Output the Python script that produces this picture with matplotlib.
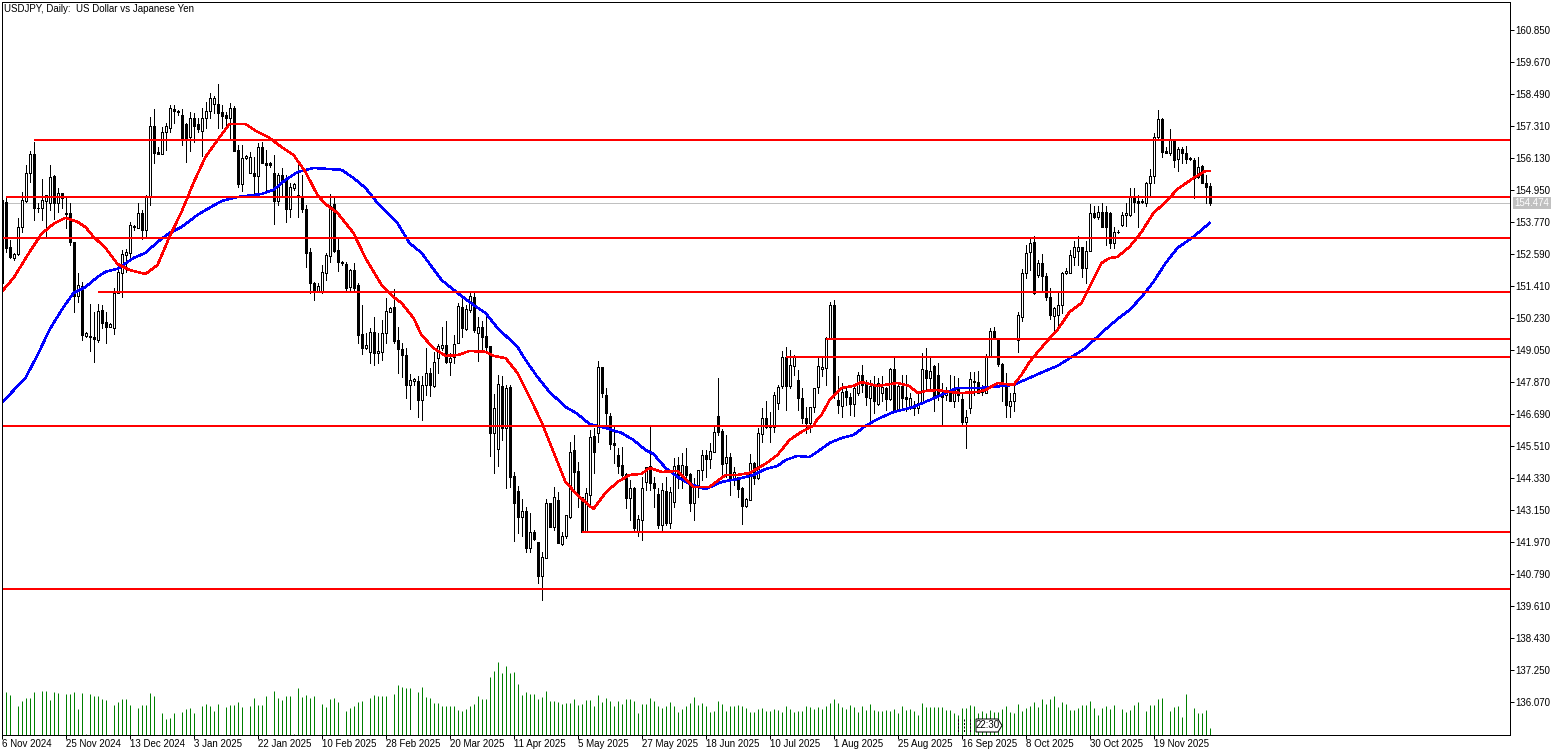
import matplotlib
matplotlib.use('Agg')
import matplotlib.pyplot as plt
from matplotlib.lines import Line2D
from matplotlib.patches import Polygon

# USDJPY daily candles, one bar per slot
opens = [
154.60,154.54,152.88,152.45,152.61,153.62,154.58,155.58,156.30,154.29,
154.29,154.58,154.50,155.49,154.50,154.85,154.12,154.12,153.04,151.06,
151.43,149.58,149.58,149.54,149.44,150.54,150.09,149.93,149.89,151.18,
151.92,152.57,152.63,153.59,153.58,154.12,153.49,154.70,157.33,156.38,
156.31,157.12,157.24,157.94,157.89,157.73,157.40,156.93,157.64,157.39,
157.16,157.61,157.88,158.14,158.14,157.83,157.73,157.63,157.98,156.44,
155.19,156.14,155.61,155.61,155.48,156.54,155.98,155.95,155.61,154.58,
155.52,155.36,154.26,155.03,154.78,154.75,154.26,152.67,151.53,151.26,
151.26,151.92,152.55,154.45,152.76,152.30,152.24,151.38,152.02,151.47,
149.66,149.13,149.01,149.72,148.95,149.01,149.68,150.48,150.64,149.44,
149.09,148.88,147.78,147.94,147.93,147.23,147.78,148.23,147.74,148.76,
149.15,149.25,148.64,148.80,149.31,150.64,149.84,150.54,151.04,149.71,
149.90,149.58,149.22,145.99,145.41,147.74,146.18,147.69,144.42,143.87,
142.92,143.13,141.75,142.35,141.98,140.75,141.41,143.41,142.55,143.54,
141.91,142.19,142.92,145.38,144.61,143.66,142.37,143.72,145.90,146.02,
148.43,147.41,146.63,145.63,145.20,144.83,144.50,143.62,143.99,142.37,
142.78,144.21,144.79,144.15,143.76,142.62,143.87,142.70,143.48,144.83,
144.40,144.79,144.50,143.41,144.09,144.64,145.20,145.05,145.32,146.63,
146.09,144.89,145.11,144.34,144.40,143.99,143.32,143.54,144.91,144.34,
145.97,146.55,146.24,146.24,147.10,147.74,148.82,147.74,148.48,147.96,
147.29,146.55,146.39,146.98,147.69,148.38,148.39,149.50,150.73,147.23,
147.01,147.56,147.35,147.08,147.47,148.15,147.82,147.31,147.78,147.08,
147.47,147.66,147.26,148.36,146.88,147.74,147.32,146.92,147.01,146.92,
147.10,148.33,148.02,148.48,148.15,147.41,147.41,147.53,147.17,147.66,
147.26,146.43,146.92,147.93,147.90,147.50,147.47,148.86,149.77,149.44,
148.54,147.84,147.01,147.17,149.44,150.30,151.90,152.67,153.04,151.84,
152.27,151.80,151.04,150.32,150.36,150.73,151.90,151.92,152.51,152.73,
152.86,152.08,152.70,154.11,153.96,154.17,154.17,154.11,153.03,153.43,
153.68,154.04,154.05,154.76,154.57,154.55,154.50,155.22,155.50,156.91,
157.58,156.40,156.32,156.79,156.10,156.47,156.32,156.15,156.08,155.44,
155.86,155.24,155.12]
highs = [
154.72,154.72,153.13,152.66,153.92,154.91,155.89,156.42,156.75,154.48,
155.36,154.78,155.89,155.52,155.03,154.85,154.72,154.48,153.06,151.92,
151.59,149.74,150.77,150.48,150.77,150.73,150.48,150.08,151.34,152.14,
152.76,152.78,153.80,153.68,154.48,154.23,154.78,157.67,157.94,156.57,
157.30,157.43,158.10,158.10,157.92,157.94,157.43,157.83,157.80,157.61,
157.98,158.23,158.56,158.43,158.88,158.10,157.86,158.19,158.07,156.63,
156.63,156.26,156.38,156.20,156.71,156.75,156.44,156.01,156.26,155.58,
155.77,155.52,155.21,155.24,155.89,155.52,154.42,152.82,151.59,151.53,
152.20,152.63,154.82,154.70,153.15,152.36,152.33,152.04,152.29,151.53,
150.73,149.68,149.87,150.27,149.71,150.17,150.97,150.67,151.30,149.93,
149.31,149.13,148.17,148.02,148.09,148.09,149.15,148.39,149.01,149.28,
149.93,150.14,148.95,149.62,150.79,150.97,150.73,151.18,151.18,150.30,
150.15,150.48,149.23,147.43,148.15,148.09,147.78,147.78,144.58,144.07,
143.57,143.29,143.07,142.43,141.99,141.63,143.56,143.41,144.00,143.84,
142.37,142.98,145.69,145.93,144.95,143.66,143.97,146.12,146.18,148.66,
148.45,147.66,146.73,146.24,145.44,145.50,144.52,144.27,144.03,142.98,
144.40,144.77,146.24,144.40,143.97,144.15,144.40,144.03,145.07,145.13,
145.26,145.44,144.52,144.34,144.64,145.38,145.38,145.63,146.24,148.02,
146.14,145.93,145.26,144.77,144.40,144.03,143.60,145.23,144.95,146.18,
146.94,147.19,146.79,147.53,147.78,149.03,149.19,149.07,148.88,148.33,
147.66,146.98,146.98,147.66,148.76,148.83,149.54,150.85,150.91,148.09,
147.84,147.72,147.47,147.72,148.27,148.52,147.97,147.97,148.09,148.03,
148.11,147.72,148.42,148.80,147.84,148.15,148.15,147.47,147.17,147.47,
148.95,149.13,148.76,148.52,148.58,147.84,147.72,148.15,148.09,148.03,
147.47,146.86,148.27,148.27,148.31,147.78,148.92,149.89,149.93,149.50,
148.58,148.21,147.47,147.78,150.48,152.05,152.94,153.19,153.27,152.39,
152.61,151.90,151.34,150.67,151.22,151.96,152.08,152.76,153.07,153.27,
152.88,153.07,154.45,154.38,154.36,154.48,154.36,154.17,153.62,153.50,
154.17,154.48,155.03,155.03,154.79,154.63,155.28,155.73,157.06,157.92,
157.61,156.57,157.21,156.84,156.57,156.57,156.59,156.20,156.14,156.20,
155.89,155.52,155.22]
lows = [
151.47,152.69,152.45,152.39,152.57,153.43,154.54,155.27,153.86,154.17,
153.86,153.25,154.23,153.89,154.17,154.29,153.55,152.94,150.46,150.85,
149.44,149.54,149.04,148.64,149.38,149.87,149.34,149.90,149.66,151.16,
151.01,151.96,152.39,153.49,153.55,153.15,153.25,154.42,155.95,156.30,
156.30,156.44,157.12,157.43,157.73,156.63,156.01,156.42,156.75,157.12,
156.22,157.24,157.61,157.80,157.24,157.24,157.24,156.87,156.40,155.09,
154.94,156.10,155.58,154.78,154.91,155.95,154.91,155.80,153.71,154.42,
154.72,153.77,153.96,154.97,153.98,154.17,152.12,151.16,150.91,151.22,
151.16,151.65,152.30,152.69,151.99,152.20,151.28,151.26,151.26,149.31,
148.92,149.09,148.58,148.53,148.60,148.70,149.31,150.48,149.34,148.21,
148.08,147.29,146.89,147.78,146.61,146.49,147.41,147.37,147.69,148.23,
149.07,148.60,148.15,148.58,149.31,149.56,149.81,150.48,149.74,148.68,
149.01,149.01,145.17,144.52,144.79,145.75,143.97,144.03,142.04,142.31,
142.19,141.63,141.60,142.06,140.46,139.85,141.39,142.55,142.43,141.94,
141.88,142.12,142.86,143.78,143.29,142.35,142.37,143.35,144.52,145.69,
147.35,146.28,145.41,144.89,144.52,144.40,143.25,142.80,142.43,142.19,
142.06,143.91,143.91,143.29,142.49,142.41,142.62,142.49,143.27,143.97,
143.97,144.27,143.14,142.78,143.66,144.27,144.40,144.70,145.32,145.93,
144.46,144.40,143.72,144.09,143.66,142.65,143.29,143.54,144.13,144.30,
145.69,146.18,145.69,146.06,146.88,147.66,146.86,147.66,148.15,146.86,
146.36,145.99,146.06,146.79,147.47,148.11,147.78,149.50,147.29,146.73,
146.61,147.04,146.67,146.65,147.41,147.53,147.04,146.37,146.73,147.04,
147.17,146.86,147.23,146.86,146.86,146.92,146.80,146.88,146.67,146.73,
147.10,147.60,147.60,146.80,147.23,146.31,147.23,147.17,146.98,147.17,
146.31,145.47,146.76,147.41,147.47,147.41,147.47,148.83,149.54,148.46,
147.17,146.59,146.59,146.80,149.01,150.12,151.71,152.02,151.12,151.77,
151.28,150.91,150.20,149.69,149.81,150.42,151.87,151.90,152.21,152.21,
151.77,151.53,152.70,153.93,153.89,153.62,152.94,152.82,152.82,153.40,
153.64,153.64,154.02,154.17,153.62,154.48,154.39,154.73,155.22,156.81,
156.20,156.32,156.26,155.83,155.65,155.95,155.95,156.08,154.66,155.40,
155.22,154.50,154.42]
closes = [
151.53,152.82,152.51,152.61,153.62,154.60,155.58,156.30,154.29,154.32,
154.60,154.78,155.46,154.50,154.85,154.69,154.10,153.04,151.06,151.47,
149.62,149.68,149.54,149.46,150.51,150.08,149.93,150.03,151.18,151.93,
152.61,152.67,153.68,153.64,154.12,153.49,154.70,157.33,156.35,156.31,
157.12,157.33,157.98,157.89,157.84,156.81,156.81,157.61,157.33,157.21,
157.61,157.88,158.37,158.35,157.82,157.70,157.63,157.98,156.42,155.19,
156.14,156.22,156.17,155.48,156.54,155.98,155.90,155.89,154.58,155.52,
155.34,154.26,155.09,155.19,154.76,154.26,152.66,151.53,151.28,151.43,
151.93,152.57,154.38,152.72,152.33,152.26,151.34,152.02,151.34,149.62,
149.13,149.25,149.72,148.95,149.03,149.68,150.51,150.60,149.41,149.09,
148.87,147.78,147.96,148.01,147.23,147.78,148.23,147.78,148.64,149.22,
149.25,148.64,148.76,149.28,150.69,149.87,150.57,151.06,149.81,149.93,
149.56,149.19,146.02,146.92,147.80,146.18,147.66,144.40,143.44,142.92,
143.13,141.78,142.35,142.10,140.75,141.45,143.41,142.55,143.63,141.94,
142.22,142.98,145.30,144.58,143.72,142.35,143.78,145.87,145.32,148.43,
147.47,146.73,145.59,145.58,144.80,144.46,143.62,143.97,142.49,142.82,
143.97,144.74,144.15,143.97,142.62,143.91,142.70,143.84,144.80,144.46,
144.83,144.46,143.41,144.13,144.64,145.20,145.05,145.34,146.03,146.03,
144.85,145.13,144.31,144.58,143.94,143.32,143.56,144.89,144.34,145.99,
146.55,146.24,146.30,147.41,147.69,148.82,147.74,148.52,148.82,147.31,
146.55,146.39,146.98,147.66,148.48,148.43,149.50,150.73,147.41,147.04,
147.50,147.35,147.08,147.66,148.15,147.78,147.35,147.74,147.17,147.84,
147.72,147.25,148.36,146.86,147.74,147.29,147.26,147.29,146.92,147.13,
148.36,148.05,148.31,147.37,147.37,147.35,147.53,147.17,147.66,147.41,
146.43,146.58,147.99,147.87,147.47,147.62,148.86,149.75,149.54,148.55,
147.78,147.04,147.19,147.47,150.34,151.90,152.66,153.03,151.18,152.27,
151.80,151.01,150.36,150.61,150.73,151.90,151.98,152.57,152.86,152.88,
152.08,152.70,154.11,153.99,154.17,153.62,153.62,153.03,153.43,153.41,
154.04,154.11,154.76,154.54,154.50,154.52,155.22,155.50,156.91,157.58,
156.38,156.35,156.81,156.08,156.47,156.32,156.10,156.12,155.40,155.83,
155.24,155.09,154.474]
# tick volume in thousands
volumes = [
0,43,40,0,29,34,37,37,43,0,
44,44,35,43,42,0,41,41,43,26,
42,1,41,39,39,36,35,0,30,33,
36,36,30,0,27,30,30,42,39,0,
22,16,17,22,0,23,26,27,22,0,
29,31,29,24,31,0,28,30,30,33,
28,0,29,37,30,30,39,0,44,37,
35,39,39,1,47,38,40,37,39,0,
31,28,36,37,33,0,24,27,29,33,
34,0,37,40,39,39,39,0,41,50,
48,47,47,0,43,48,38,37,32,32,
29,29,29,29,25,24,26,29,31,39,
36,36,58,64,73,62,69,62,63,51,
40,43,41,41,36,38,44,34,34,33,
31,32,32,36,30,31,35,35,29,40,
33,37,34,29,34,31,36,36,34,22,
31,31,37,34,29,27,29,33,29,23,
26,29,32,38,30,32,29,23,24,34,
31,24,29,29,30,29,27,23,23,26,
27,24,24,26,25,23,29,26,23,24,
24,29,28,26,28,26,29,32,36,32,
28,26,30,28,23,29,25,31,25,24,
24,25,24,26,22,29,25,26,24,20,
32,28,28,28,28,28,25,25,22,20,
27,27,30,29,22,24,22,25,23,23,
26,29,23,22,31,24,27,29,33,28,
36,31,36,39,28,33,31,25,25,27,
30,30,34,27,20,27,29,26,30,0,
26,23,25,30,33,0,24,30,30,36,
37,0,24,28,29,18,41,0,27,22,
22,25,7]

# moving averages, read at these bars
red_idx = [0,3,7,10,13,16,19,21,23,26,29,32,36,39,42,45,48,51,54,57,61,64,67,70,73,76,79,81,84,88,91,95,98,100,103,105,108,111,114,117,
121,123,126,129,132,135,138,141,144,147,148,151,154,157,160,162,165,169,173,177,181,184,187,191,194,197,200,203,204,205,207,210,213,215,219,224,227,229,231,234,
237,240,244,246,249,253,255,257,261,264,267,270,272,275,277,279,282,285,288,291,294,298,301,302]
red_ma = [151.21,151.72,152.68,153.35,153.72,153.94,153.79,153.60,153.24,152.83,152.24,152.02,151.87,152.20,153.24,154.16,155.23,156.19,156.81,157.40,157.40,157.11,156.89,156.55,156.26,155.63,154.78,154.45,154.12,153.38,152.46,151.47,151.02,150.80,150.25,149.62,149.14,148.85,148.88,149.03,
149.00,148.85,148.77,148.22,147.34,146.41,145.31,144.20,143.72,143.32,143.21,143.80,144.20,144.46,144.50,144.72,144.57,144.61,144.02,144.02,144.46,144.46,144.53,144.87,145.20,145.75,146.05,146.27,146.53,146.67,147.22,147.67,147.74,147.89,147.74,147.85,147.74,147.48,147.56,147.59,
147.52,147.48,147.52,147.59,147.85,147.78,148.15,148.63,149.33,149.81,150.47,150.80,151.39,152.27,152.46,152.50,152.87,153.42,154.12,154.52,155.00,155.41,155.67,155.67]
blue_idx = [0,6,9,12,15,18,21,24,26,29,33,36,39,42,45,49,52,55,59,65,68,71,74,78,85,88,91,94,99,102,105,110,114,118,121,124,129,131,134,137,
141,144,147,151,155,158,161,163,166,169,172,176,180,184,188,191,194,196,199,202,205,207,210,213,216,219,223,228,232,236,239,245,253,257,261,264,268,271,275,279,
282,285,288,291,294,298,302]
blue_ma = [147.11,148.04,148.88,149.81,150.54,151.17,151.39,151.76,151.95,152.06,152.46,152.65,153.05,153.38,153.60,154.05,154.31,154.56,154.71,154.82,154.97,155.34,155.63,155.78,155.71,155.41,155.04,154.49,153.75,153.01,152.65,151.65,151.17,150.73,150.43,149.88,149.18,148.70,148.07,147.52,
146.97,146.71,146.34,146.19,146.01,145.75,145.38,145.23,144.72,144.39,144.13,143.94,144.20,144.31,144.46,144.68,144.79,145.01,145.16,145.12,145.42,145.64,145.82,145.93,146.27,146.52,146.78,146.97,147.22,147.48,147.67,147.67,147.78,148.04,148.30,148.48,148.85,149.14,149.70,150.21,
150.54,151.02,151.58,152.27,152.83,153.24,153.75]

# horizontal levels and the bar each one starts on
levels = [156.81,154.71,153.21,151.22,149.47,148.81,146.27,142.36,140.25]
level_starts = [8,1,0,24,206,196,0,145,0]

last_price = 154.474
price_ticks = [160.85,159.67,158.49,157.31,156.13,154.95,153.77,152.59,151.41,150.23,149.05,147.87,146.69,145.51,144.33,143.15,141.97,140.79,139.61,138.43,137.25,136.07]
date_labels = ['6 Nov 2024','25 Nov 2024','13 Dec 2024','3 Jan 2025','22 Jan 2025','10 Feb 2025','28 Feb 2025','20 Mar 2025','11 Apr 2025','5 May 2025',
               '27 May 2025','18 Jun 2025','10 Jul 2025','1 Aug 2025','25 Aug 2025','16 Sep 2025','8 Oct 2025','30 Oct 2025','19 Nov 2025']

W, H = 1563, 756
plt.rcParams['font.family'] = ['Liberation Sans', 'DejaVu Sans']
FS = 7.0
PX = 0.72  # one pixel in points

def fx(px):
    return px / W

def fy(py):
    return 1 - py / H

fig = plt.figure(figsize=(W / 100, H / 100), dpi=100, facecolor='white')
ax = fig.add_axes([fx(1.5), fy(735), (1510 - 2) / W, (735 - 2) / H])
ax.set_xlim(0, 377)
ax.set_ylim(134.87, 161.90)
ax.set_facecolor('white')

# volume pane shares the price area
ax2 = ax.twinx()
ax2.set_ylim(0, 733)
ax2.axis('off')
vol_x = [i for i, v in enumerate(volumes) if v > 0]
vol_y = [v for v in volumes if v > 0]
ax2.vlines(vol_x, 0, vol_y, color='#008000', lw=PX, antialiased=True)
ax.set_zorder(ax2.get_zorder() + 1)
ax.patch.set_visible(False)

x = list(range(len(opens)))
ax.vlines(x, lows, highs, color='black', lw=PX, antialiased=False, zorder=2)
bottoms = [min(o, c) for o, c in zip(opens, closes)]
heights = [abs(o - c) for o, c in zip(opens, closes)]
colors = ['white' if c >= o else 'black' for o, c in zip(opens, closes)]
ax.bar(x, heights, bottom=bottoms, width=0.5, color=colors, edgecolor='black',
       linewidth=PX, antialiased=False, zorder=3)

ax.hlines(last_price, 0, 377, color='#c0c0c0', lw=PX, antialiased=False, zorder=1)
ax.plot(blue_idx, blue_ma, color='#0000ff', lw=1.1, antialiased=False, zorder=4)
ax.plot(red_idx, red_ma, color='#ff0000', lw=1.1, antialiased=False, zorder=5)
ax.hlines(levels, level_starts, 377, color='#ff0000', lw=2 * PX, zorder=6)

ax.yaxis.tick_right()
ax.set_yticks(price_ticks)
ax.set_yticklabels(['%.3f' % p for p in price_ticks], fontsize=FS, color='black')
ax.tick_params(axis='y', direction='out', length=3, width=PX, pad=1.5, color='black')

date_pos = [16 * k for k in range(len(date_labels))]
ax.set_xticks(date_pos)
ax.set_xticklabels([])
ax.tick_params(axis='x', direction='out', length=3, width=PX)
for k, lab in zip(date_pos, date_labels):
    ax.annotate(lab, xy=(k, 0), xycoords=('data', 'axes fraction'), xytext=(0, -2.6),
                textcoords='offset points', ha='left', va='top', fontsize=FS, annotation_clip=False)

for s in ax.spines.values():
    s.set_linewidth(PX)
    s.set_color('black')
    s.set_zorder(10)

ax.text(2 / 1508, 1 - 7 / 733, 'USDJPY, Daily:  US Dollar vs Japanese Yen', transform=ax.transAxes,
        fontsize=FS, va='center', ha='left', color='black', zorder=12)

# last price tag on the scale
fig.text(fx(1532), fy(203), '154.474', fontsize=FS, color='white', ha='center', va='center',
         bbox=dict(boxstyle='square,pad=0.15', fc='#c0c0c0', ec='none'))

# date marker left over on the time scale
for px in [958, 964, 970, 976]:
    fig.add_artist(Line2D([fx(px), fx(px)], [fy(719), fy(732)], color='black', lw=PX, ls=(0, (2, 1.5)), zorder=11))
fig.add_artist(Polygon([(fx(976), fy(719)), (fx(998), fy(719)), (fx(1002), fy(725.5)), (fx(998), fy(732)), (fx(976), fy(732))],
                       closed=True, fc='white', ec='black', lw=PX, transform=fig.transFigure, zorder=11))
fig.text(fx(987.5), fy(725.5), '22:30', fontsize=FS, ha='center', va='center', zorder=12)

fig.savefig('out.png', dpi=100, facecolor='white')
